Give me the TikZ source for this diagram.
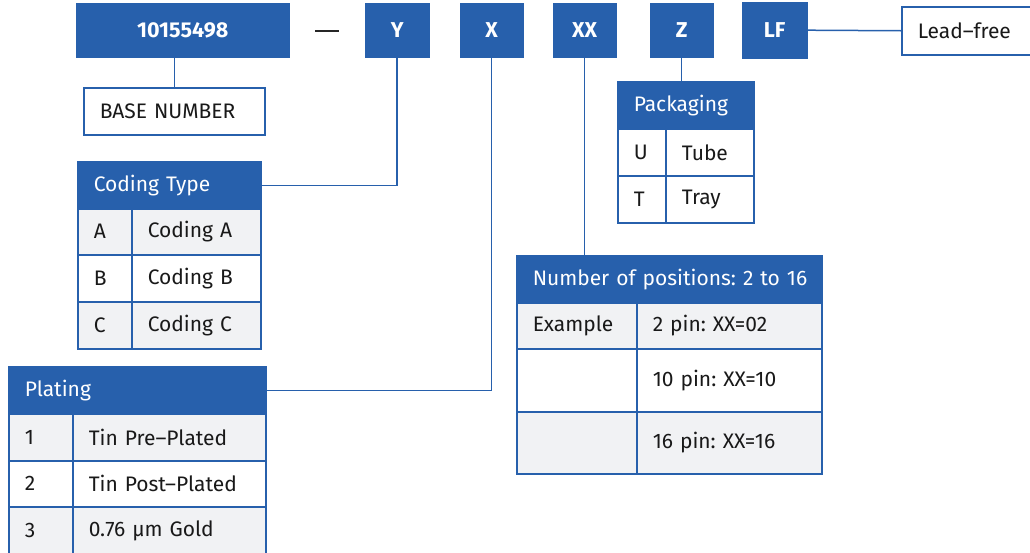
\documentclass[tikz,border=0pt]{standalone}
\usepackage{fontspec}
\setmainfont{Fira Sans}
\usepackage{tikz}
\frenchspacing

\definecolor{pnblue}{HTML}{2760AC}
\definecolor{pngray}{HTML}{F1F2F4}

\begin{document}
\begin{tikzpicture}[x=1pt,y=-1pt,
    every node/.style={font=\fontsize{21}{25}\selectfont},
    code/.style={draw=pnblue,fill=pnblue,text=white,anchor=north west,inner sep=0pt,
      font=\fontsize{21.5}{25}\selectfont\bfseries},
    hdr/.style={draw=pnblue,fill=pnblue,text=white,anchor=north west,line width=1.5pt,
      inner xsep=16pt,inner ysep=0pt,align=left,minimum height=47pt},
    cell/.style={draw=pnblue,fill=white,text=black!90,anchor=north west,line width=1.5pt,
      inner xsep=16pt,inner ysep=0pt,align=left},
    grey/.style={cell,fill=pngray},
    wire/.style={draw=pnblue,line width=1.5pt}]
  \useasboundingbox (0,0) rectangle (1030,552);

  % part number
  \node[code,minimum width=213pt,minimum height=54pt] (base) at (76,3) {10155498};
  \node[text=black!85,inner sep=0pt] (dash) at (327,31) {\rule{24pt}{2.6pt}};
  \node[code,minimum width=64pt,minimum height=54pt] (ybox) at (365,3) {Y};
  \node[code,minimum width=63pt,minimum height=54pt] (xbox) at (460,3) {X};
  \node[code,minimum width=63pt,minimum height=54pt] (xxbox) at (553,3) {XX};
  \node[code,minimum width=63pt,minimum height=54pt] (zbox) at (650,3) {Z};
  \node[code,minimum width=65pt,minimum height=56pt] (lfbox) at (742,2) {LF};
  \node[cell,text width=108pt,minimum height=48pt] (lead) at (901,6) {Lead–free};

  % base number
  \node[cell,text width=149pt,minimum height=47pt] (basenum) at (83,87) {BASE NUMBER};

  % coding type
  \node[hdr,text width=151pt] (codhdr) at (77,161) {Coding Type};
  \node[grey,text width=22pt,minimum height=46pt] (coda) at (77,208) {A};
  \node[grey,text width=97pt,minimum height=46pt] (codan) at (131,208) {Coding A};
  \node[cell,text width=22pt,minimum height=47pt] (codb) at (77,254) {B};
  \node[cell,text width=97pt,minimum height=47pt] (codbn) at (131,254) {Coding B};
  \node[grey,text width=22pt,minimum height=47pt] (codc) at (77,301) {C};
  \node[grey,text width=97pt,minimum height=47pt] (codcn) at (131,301) {Coding C};

  % plating
  \node[hdr,text width=225pt] (plathdr) at (8,366) {Plating};
  \node[grey,text width=32pt,minimum height=47pt] (plat1) at (8,413) {1};
  \node[grey,text width=161pt,minimum height=47pt] (plat1n) at (72,413) {Tin Pre–Plated};
  \node[cell,text width=32pt,minimum height=46pt] (plat2) at (8,460) {2};
  \node[cell,text width=161pt,minimum height=46pt] (plat2n) at (72,460) {Tin Post–Plated};
  \node[grey,text width=32pt,minimum height=48pt] (plat3) at (8,506) {3};
  \node[grey,text width=161pt,minimum height=48pt] (plat3n) at (72,506) {0.76 µm Gold};

  % number of positions
  \node[hdr,text width=273pt] (numhdr) at (516,255) {\mbox{Number of positions: 2 to 16}};
  \node[grey,text width=88pt,minimum height=46pt] (num1) at (516,302) {Example};
  \node[grey,text width=153pt,minimum height=46pt] (num1n) at (636,302) {2 pin: XX=02};
  \node[cell,text width=88pt,minimum height=63pt] (num2) at (516,348) {};
  \node[cell,text width=153pt,minimum height=63pt] (num2n) at (636,348) {10 pin: XX=10};
  \node[grey,text width=88pt,minimum height=62pt] (num3) at (516,411) {};
  \node[grey,text width=153pt,minimum height=62pt] (num3n) at (636,411) {16 pin: XX=16};

  % packaging
  \node[hdr,text width=104pt] (pkghdr) at (617,81) {Packaging};
  \node[cell,text width=16pt,minimum height=47pt] (pkgu) at (617,128) {U};
  \node[cell,text width=56pt,minimum height=47pt] (pkgun) at (665,128) {Tube};
  \node[cell,text width=16pt,minimum height=47pt] (pkgt) at (617,175) {T};
  \node[cell,text width=56pt,minimum height=47pt] (pkgtn) at (665,175) {Tray};

  % connectors
  \draw[wire] (basenum.north) -- (basenum.north |- base.south);
  \draw[wire] (ybox.south) |- (codhdr.east);
  \draw[wire] (xbox.south) |- (plathdr.east);
  \draw[wire] (xxbox.south) -- (xxbox.south |- numhdr.north);
  \draw[wire] (zbox.south) -- (zbox.south |- pkghdr.north);
  \draw[wire] (lfbox.east) -- (lead.west);
\end{tikzpicture}
\end{document}
